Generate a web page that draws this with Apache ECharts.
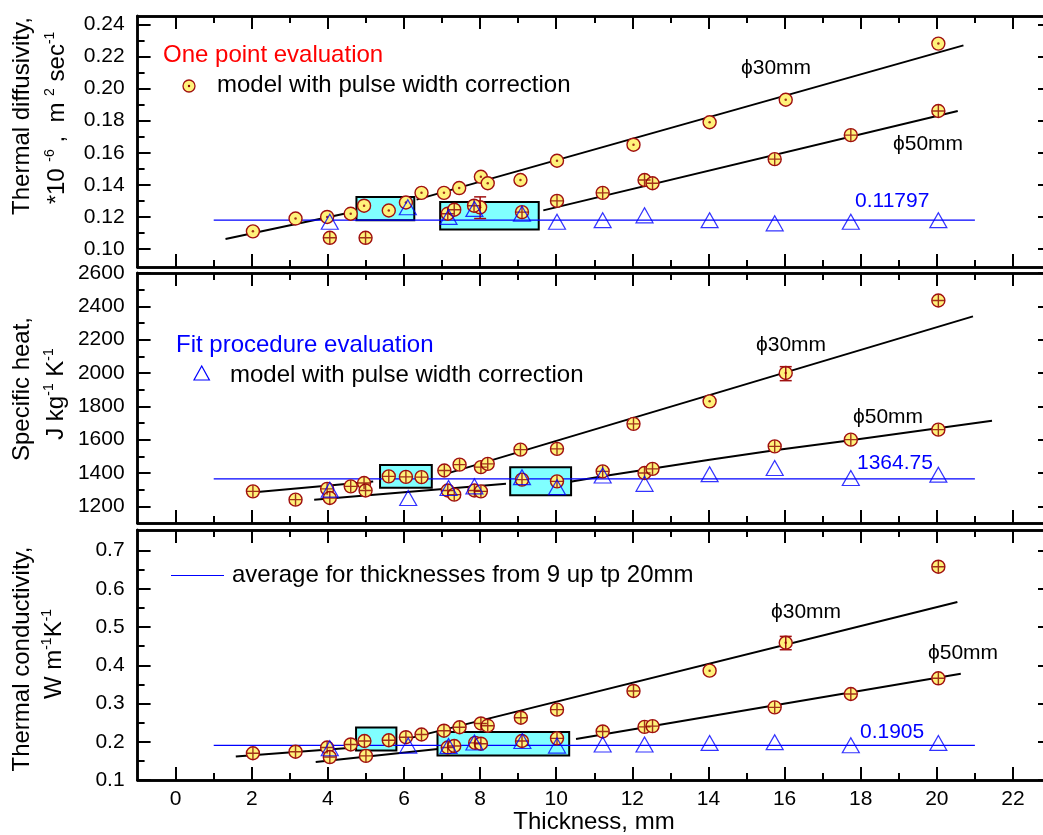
<!DOCTYPE html>
<html><head><meta charset="utf-8">
<script src="https://cdn.jsdelivr.net/npm/echarts@6/dist/echarts.min.js"></script>
<style>html,body{margin:0;padding:0;background:#fff}#c{width:1043px;height:835px}</style>
</head><body><div id="c"></div>
<script>
// ---------- tick values ----------
const xMajor = [0, 2, 4, 6, 8, 10, 12, 14, 16, 18, 20, 22];
const xMinor = [1, 3, 5, 7, 9, 11, 13, 15, 17, 19, 21];
const diffMajor = [0.10, 0.12, 0.14, 0.16, 0.18, 0.20, 0.22, 0.24];
const diffMinor = [0.11, 0.13, 0.15, 0.17, 0.19, 0.21, 0.23];
const heatMajor = [1200, 1400, 1600, 1800, 2000, 2200, 2400, 2600];
const heatMinor = [1300, 1500, 1700, 1900, 2100, 2300, 2500];
const condMajor = [0.1, 0.2, 0.3, 0.4, 0.5, 0.6, 0.7];
const condMinor = [0.15, 0.25, 0.35, 0.45, 0.55, 0.65];

// ---------- Thermal diffusivity ----------
const diffDot = [[2.03,0.111],[3.15,0.119],[3.98,0.120],[4.6,0.122],[4.95,0.127],[5.6,0.124],[6.05,0.129],[6.46,0.135],[7.05,0.135],[7.45,0.138],[8.02,0.145],[8.2,0.141],[9.06,0.143],[10.02,0.155],[12.03,0.165],[14.03,0.179],[16.03,0.193],[20.04,0.228],[8.0,0.126]];
const diffCross = [[4.05,0.107],[4.99,0.107],[7.15,0.122],[7.32,0.1245],[7.84,0.127],[9.1,0.123],[10.02,0.130],[11.22,0.135],[12.32,0.143],[12.53,0.141],[15.74,0.156],[17.74,0.171],[20.04,0.186]];
const diffTri = [[4.05,0.117],[6.1,0.126],[7.17,0.120],[7.85,0.125],[9.1,0.122],[10.02,0.117],[11.22,0.118],[12.32,0.121],[14.03,0.118],[15.74,0.116],[17.74,0.117],[20.04,0.118]];
const diffErr = [[8.0,0.119,0.1325]];
const diffFit30a = [[1.31,0.1062],[4.8,0.1238]];
const diffFit30b = [[6.33,0.1308],[20.7,0.2269]];
const diffFit50 = [[9.66,0.1241],[20.55,0.186]];
const diffAvg = [[1,0.11797],[21,0.11797]];
const diffBoxes = [[4.75,6.27,0.1179,0.1324],[6.95,9.54,0.1121,0.1293]];

// ---------- Specific heat ----------
const heatDot = [[14.03,1830],[16.03,2000]];
const heatCross = [[2.03,1290],[3.15,1240],[3.98,1305],[4.05,1250],[4.6,1320],[4.95,1340],[4.99,1295],[5.6,1380],[6.05,1377],[6.46,1375],[7.06,1415],[7.46,1450],[8.02,1435],[8.2,1455],[9.06,1540],[10.02,1545],[7.15,1295],[7.32,1270],[7.85,1295],[8.02,1290],[9.1,1360],[10.02,1350],[11.22,1410],[12.03,1695],[12.32,1400],[12.53,1425],[15.74,1560],[17.74,1600],[20.04,2435],[20.04,1660]];
const heatTri = [[4.05,1300],[6.11,1250],[7.17,1310],[7.85,1320],[9.1,1375],[10.02,1315],[11.22,1385],[12.32,1335],[14.03,1393],[15.74,1430],[17.74,1370],[20.04,1390]];
const heatErr = [[16.03,1954,2038]];
const heatFit30a = [[1.93,1281],[5.19,1349]];
const heatFit30b = [[7.1,1395],[20.95,2340]];
const heatFit50a = [[3.64,1239],[8.68,1335]];
const heatFit50b = [[10.41,1349],[11.22,1381],[14.03,1480],[15.74,1536],[17.74,1596],[21.45,1713]];
const heatAvg = [[1,1364.75],[21,1364.75]];
const heatBoxes = [[5.37,6.73,1311,1448],[8.79,10.39,1267,1434]];

// ---------- Thermal conductivity ----------
const condDot = [[14.03,0.386],[16.03,0.459]];
const condCross = [[2.03,0.170],[3.15,0.174],[3.98,0.185],[4.05,0.160],[4.6,0.193],[4.96,0.202],[5.0,0.163],[5.6,0.204],[6.05,0.212],[6.46,0.219],[7.05,0.229],[7.46,0.238],[8.02,0.248],[8.2,0.242],[9.07,0.263],[10.02,0.284],[7.15,0.185],[7.32,0.189],[7.87,0.197],[8.02,0.195],[9.1,0.202],[10.02,0.209],[11.22,0.227],[12.03,0.333],[12.32,0.239],[12.53,0.241],[15.74,0.290],[17.74,0.325],[20.04,0.658],[20.04,0.366]];
const condTri = [[4.05,0.183],[6.11,0.190],[7.17,0.189],[7.85,0.198],[9.11,0.202],[10.02,0.190],[11.22,0.193],[12.32,0.193],[14.03,0.197],[15.74,0.199],[17.74,0.191],[20.04,0.197]];
const condErr = [[16.03,0.4408,0.4757]];
const condFit30a = [[1.58,0.1616],[4.71,0.185]];
const condFit30b = [[6.05,0.207],[20.54,0.5657]];
const condFit50a = [[3.68,0.147],[6.95,0.182]];
const condFit50b = [[10.52,0.207],[20.63,0.378]];
const condAvg = [[1,0.1905],[21,0.1905]];
const condBoxes = [[4.74,5.8,0.1772,0.2375],[6.88,10.34,0.1642,0.2254]];

// ---------- build ----------
const FONT = '"Liberation Sans", Arial, sans-serif';
const panels = [
  {top:16, height:251, min:0.0888, max:0.2452, major:diffMajor, minor:diffMinor, fmt:v=>v.toFixed(2),
   dot:diffDot, cross:diffCross, tri:diffTri, err:diffErr, fits:[diffFit30a,diffFit30b,diffFit50], avg:diffAvg, boxes:diffBoxes},
  {top:273, height:250, min:1100, max:2600, major:heatMajor, minor:heatMinor, fmt:v=>String(Math.round(v)),
   dot:heatDot, cross:heatCross, tri:heatTri, err:heatErr, fits:[heatFit30a,heatFit30b,heatFit50a,heatFit50b], avg:heatAvg, boxes:heatBoxes},
  {top:530, height:250, min:0.1, max:0.754, major:condMajor, minor:condMinor, fmt:v=>v.toFixed(1),
   dot:condDot, cross:condCross, tri:condTri, err:condErr, fits:[condFit30a,condFit30b,condFit50a,condFit50b], avg:condAvg, boxes:condBoxes}
];

const grid = [], xAxis = [], yAxis = [], series = [];
function tick(len, vals) {
  return {show:true, inside:true, length:len, lineStyle:{color:'#000', width:2}, customValues:vals};
}
function line() { return {show:true, onZero:false, lineStyle:{color:'#000', width:2.5}}; }
panels.forEach((p, g) => {
  grid.push({left:137.6, width:913.4, top:p.top, height:p.height, show:false, outerBoundsMode:'none'});
  const xc = () => ({type:'value', gridIndex:g, min:-1, max:23, splitLine:{show:false}, axisLine:line(), axisLabel:{show:false}});
  xAxis.push(Object.assign(xc(), {position:'bottom', axisTick:tick(13, xMajor),
    axisLabel: g === 2 ? {show:true, customValues:xMajor, fontSize:21, color:'#000', margin:9, fontFamily:FONT} : {show:false}}));
  xAxis.push(Object.assign(xc(), {position:'bottom', axisTick:tick(7, xMinor)}));
  xAxis.push(Object.assign(xc(), {position:'top', axisTick:tick(13, xMajor)}));
  xAxis.push(Object.assign(xc(), {position:'top', axisTick:tick(7, xMinor)}));
  const yc = () => ({type:'value', gridIndex:g, min:p.min, max:p.max, splitLine:{show:false}, axisLine:line(), axisLabel:{show:false}});
  yAxis.push(Object.assign(yc(), {position:'left', axisTick:tick(13, p.major),
    axisLabel:{show:true, customValues:p.major, fontSize:21, color:'#000', margin:13, fontFamily:FONT, formatter:p.fmt}}));
  yAxis.push(Object.assign(yc(), {position:'left', axisTick:tick(7, p.minor)}));
  yAxis.push(Object.assign(yc(), {position:'right', axisTick:tick(13, p.major)}));
  yAxis.push(Object.assign(yc(), {position:'right', axisTick:tick(7, p.minor)}));
  const ax = {xAxisIndex:4*g, yAxisIndex:4*g};
  p.fits.forEach(f => series.push(Object.assign({type:'line', data:f, showSymbol:false, symbol:'none', silent:true,
    lineStyle:{color:'#000', width:2}, z:2}, ax)));
  series.push(Object.assign({type:'custom', data:p.boxes, silent:true, z:3, encode:{x:[0,1], y:[2,3]},
    renderItem:(params, api) => {
      const a = api.coord([api.value(0), api.value(3)]);
      const b = api.coord([api.value(1), api.value(2)]);
      return {type:'rect', shape:{x:a[0], y:a[1], width:b[0]-a[0], height:b[1]-a[1]},
        style:{fill:'#80ffff', stroke:'#000', lineWidth:2}};
    }}, ax));
  series.push(Object.assign({type:'line', data:p.avg, showSymbol:false, symbol:'none', silent:true,
    lineStyle:{color:'#0000ff', width:1.2}, z:4}, ax));
  const circ = {type:'scatter', symbol:'circle', symbolSize:13, silent:true, z:5,
    itemStyle:{color:'#fff27a', borderColor:'#a01010', borderWidth:1.4, opacity:1}};
  series.push(Object.assign({}, circ, {data:p.dot}, ax));
  series.push(Object.assign({}, circ, {data:p.cross}, ax));
  series.push(Object.assign({type:'scatter', data:p.cross, symbol:'path://M0,6L12,6M6,0L6,12', symbolSize:12, silent:true, z:6,
    itemStyle:{color:'rgba(0,0,0,0)', borderColor:'#8b0000', borderWidth:1.4}}, ax));
  series.push(Object.assign({type:'scatter', data:p.dot, symbol:'circle', symbolSize:2.5, silent:true, z:6,
    itemStyle:{color:'#8b0000'}}, ax));
  series.push(Object.assign({type:'custom', data:p.err, silent:true, z:6, encode:{x:0, y:[1,2]},
    renderItem:(params, api) => {
      const lo = api.coord([api.value(0), api.value(1)]);
      const hi = api.coord([api.value(0), api.value(2)]);
      const st = {stroke:'#a01010', lineWidth:1.5};
      return {type:'group', children:[
        {type:'line', shape:{x1:lo[0], y1:lo[1], x2:hi[0], y2:hi[1]}, style:st},
        {type:'line', shape:{x1:lo[0]-6, y1:lo[1], x2:lo[0]+6, y2:lo[1]}, style:st},
        {type:'line', shape:{x1:hi[0]-6, y1:hi[1], x2:hi[0]+6, y2:hi[1]}, style:st}]};
    }}, ax));
  series.push(Object.assign({type:'scatter', data:p.tri, symbol:'triangle', symbolSize:[17,15], silent:true, z:7,
    itemStyle:{color:'rgba(0,0,0,0)', borderColor:'#0000ff', borderWidth:1.2}}, ax));
});

// ---------- texts ----------
function txt(x, y, text, size, color, align) {
  return {type:'text', x:x, y:y, z:20, style:{text:text, fontSize:size, fontFamily:FONT, fill:color || '#000',
    textAlign:align || 'left', textVerticalAlign:'middle'}};
}
function vtxt(x, y, text) {
  return {type:'text', x:x, y:y, rotation:Math.PI/2, z:20, style:{text:text, fontFamily:FONT, fill:'#000',
    textAlign:'center', textVerticalAlign:'middle',
    rich:{n:{fontSize:24, fontFamily:FONT, lineHeight:28}, s:{fontSize:14, fontFamily:FONT, lineHeight:14, verticalAlign:'top'}}}};
}
const graphic = [
  vtxt(22, 116, '{n|Thermal diffusivity,}'),
  vtxt(57, 118, '{n|*10 }{s|-6}{n| ,  m }{s|2}{n| sec}{s|-1}'),
  vtxt(22, 389, '{n|Specific heat,}'),
  vtxt(56, 394, '{n|J kg}{s|-1}{n| K}{s|-1}'),
  vtxt(22, 659, '{n|Thermal conductivity,}'),
  vtxt(54, 654, '{n|W m}{s|-1}{n|K}{s|-1}'),
  txt(594, 822, 'Thickness, mm', 24, '#000', 'center'),
  txt(163, 55, 'One point evaluation', 24, '#ff0000'),
  {type:'circle', shape:{cx:189, cy:86, r:6}, z:20, style:{fill:'#fff27a', stroke:'#a01010', lineWidth:1.3}},
  {type:'circle', shape:{cx:189, cy:86, r:1.2}, z:21, style:{fill:'#8b0000'}},
  txt(217, 85, 'model with pulse width correction', 24),
  txt(176, 345, 'Fit procedure evaluation', 24, '#0000ff'),
  {type:'polygon', shape:{points:[[201.7,366],[194,380],[209.4,380]]}, z:20, style:{fill:'none', stroke:'#0000ff', lineWidth:1.2}},
  txt(230, 375, 'model with pulse width correction', 24),
  {type:'line', shape:{x1:171, y1:575.5, x2:224, y2:575.5}, z:20, style:{stroke:'#0000ff', lineWidth:1.2}},
  txt(232, 575, 'average for thicknesses from 9 up tp 20mm', 24),
  txt(741, 68, 'ϕ30mm', 21),
  txt(893, 144, 'ϕ50mm', 21),
  txt(855, 201, '0.11797', 21, '#0000ff'),
  txt(756, 345, 'ϕ30mm', 21),
  txt(853, 417, 'ϕ50mm', 21),
  txt(857, 463, '1364.75', 21, '#0000ff'),
  txt(771, 612, 'ϕ30mm', 21),
  txt(928, 653, 'ϕ50mm', 21),
  txt(860, 732, '0.1905', 21, '#0000ff')
];

const chart = echarts.init(document.getElementById('c'), null, {renderer:'canvas'});
chart.setOption({animation:false, backgroundColor:'#fff', grid, xAxis, yAxis, series, graphic});
</script></body></html>
